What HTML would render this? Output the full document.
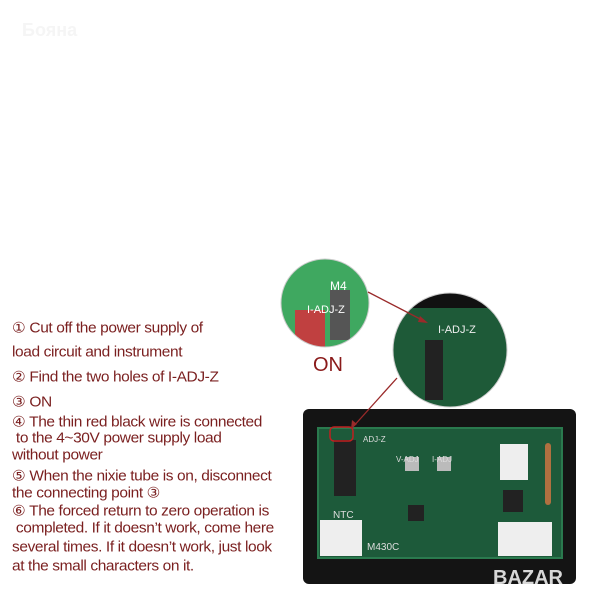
<!DOCTYPE html>
<html><head><meta charset="utf-8"><style>
body{margin:0;width:600px;height:600px;background:#fff;position:relative;overflow:hidden;font-family:"Liberation Sans",sans-serif}
.t{position:absolute;left:12px;color:#7a1f1f;font-size:15.5px;white-space:nowrap;letter-spacing:-0.4px;transform:scaleY(0.95);transform-origin:0 0}
</style></head><body>
<div style="position:absolute;left:22px;top:20px;font-size:18px;font-weight:bold;color:#f5f5f5">Бояна</div>
<div class="t" style="top:319px">① Cut off the power supply of</div>
<div class="t" style="top:344px">load circuit and instrument</div>
<div class="t" style="top:368px">② Find the two holes of I-ADJ-Z</div>
<div class="t" style="top:393px">③ ON</div>
<div class="t" style="top:413px">④ The thin red black wire is connected</div>
<div class="t" style="top:430px">&nbsp;to the 4~30V power supply load</div>
<div class="t" style="top:447px">without power</div>
<div class="t" style="top:467px">⑤ When the nixie tube is on, disconnect</div>
<div class="t" style="top:484px">the connecting point ③</div>
<div class="t" style="top:502px">⑥ The forced return to zero operation is</div>
<div class="t" style="top:520px">&nbsp;completed. If it doesn’t work, come here</div>
<div class="t" style="top:539px">several times. If it doesn’t work, just look</div>
<div class="t" style="top:558px">at the small characters on it.</div>
<div style="position:absolute;left:313px;top:354px;font-size:20px;color:#8a1a1a">ON</div>
<svg width="600" height="600" style="position:absolute;left:0;top:0">
<defs><clipPath id="c1"><circle cx="325" cy="303" r="44"/></clipPath><clipPath id="c2"><circle cx="450" cy="350" r="57"/></clipPath></defs>
<rect x="303" y="409" width="273" height="175" rx="6" fill="#141414"/>
<rect x="318" y="428" width="244" height="130" fill="#1d5a3a"/>
<rect x="318" y="428" width="244" height="130" fill="none" stroke="#2a7a4e" stroke-width="2"/>
<rect x="334" y="440" width="22" height="56" fill="#222"/>
<rect x="500" y="444" width="28" height="36" fill="#eee"/>
<rect x="320" y="520" width="42" height="36" fill="#eee"/>
<rect x="498" y="522" width="54" height="34" fill="#eee"/>
<rect x="405" y="457" width="14" height="14" fill="#bbb"/>
<rect x="437" y="457" width="14" height="14" fill="#bbb"/>
<rect x="408" y="505" width="16" height="16" fill="#222"/>
<rect x="503" y="490" width="20" height="22" fill="#222"/>
<rect x="545" y="443" width="6" height="62" rx="3" fill="#b07040"/>
<text x="363" y="442" font-size="8" fill="#ddd">ADJ-Z</text>
<text x="396" y="462" font-size="8" fill="#ddd">V-ADJ</text>
<text x="432" y="462" font-size="8" fill="#ddd">I-ADJ</text>
<text x="333" y="518" font-size="10" fill="#ddd">NTC</text>
<text x="367" y="550" font-size="10" fill="#ddd">M430C</text>
<rect x="330" y="427" width="23" height="14" rx="4" fill="none" stroke="#c02020" stroke-width="1.5"/>
<g clip-path="url(#c1)"><rect x="280" y="258" width="90" height="90" fill="#3fa860"/><rect x="295" y="310" width="30" height="40" fill="#c04040"/><rect x="330" y="290" width="20" height="50" fill="#555"/><text x="307" y="313" font-size="11" fill="#fff">I-ADJ-Z</text><text x="330" y="290" font-size="12" fill="#fff">M4</text></g>
<circle cx="325" cy="303" r="44" fill="none" stroke="#ccc" stroke-width="1"/>
<g clip-path="url(#c2)"><rect x="390" y="290" width="120" height="120" fill="#1e5a38"/><rect x="393" y="290" width="120" height="18" fill="#111"/><rect x="425" y="340" width="18" height="60" fill="#222"/><text x="438" y="333" font-size="11" fill="#eee">I-ADJ-Z</text></g>
<circle cx="450" cy="350" r="57" fill="none" stroke="#ccc" stroke-width="1"/>
<line x1="368" y1="292" x2="426" y2="322" stroke="#9a2a2a" stroke-width="1.3"/>
<polygon points="428,323 420,316 418,322" fill="#9a2a2a"/>
<line x1="397" y1="378" x2="352" y2="428" stroke="#9a2a2a" stroke-width="1.3"/>
<polygon points="351,429 352,420 357,424" fill="#9a2a2a"/>
<text x="493" y="584" font-size="20" font-weight="bold" fill="#d8d8d8">BAZAR</text>
</svg>
</body></html>
